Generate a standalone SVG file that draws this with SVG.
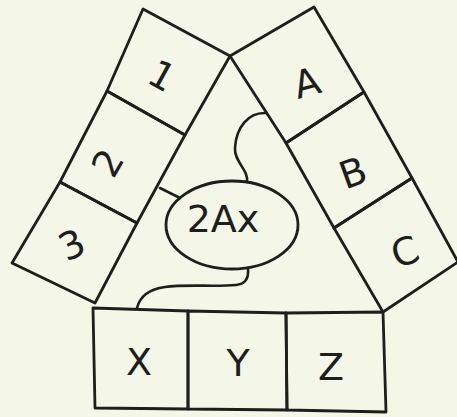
<svg xmlns="http://www.w3.org/2000/svg" width="457" height="417" viewBox="0 0 457 417">
<style>
.cell{fill:none;stroke:#1e1e1e;stroke-width:2.8;stroke-linejoin:round}
.lbl{font-family:"DejaVu Sans","Liberation Sans",sans-serif;font-size:38px;fill:#1e1e1e;text-anchor:middle;dominant-baseline:central}
.con{fill:none;stroke:#1e1e1e;stroke-width:2.6;stroke-linecap:round}
</style>
<rect width="457" height="417" fill="#f4f6e7"/>
<g id="cell-1"><polygon class="cell" points="143,9 230,56 185,135 107,91"/><text class="lbl" transform="translate(162,76) rotate(29)">1</text></g>
<g id="cell-2"><polygon class="cell" points="107,91 185,135 137,223 60,182"/><text class="lbl" transform="translate(108,163) rotate(-60)">2</text></g>
<g id="cell-3"><polygon class="cell" points="60,182 137,223 95,303 12,263"/><text class="lbl" transform="translate(72,245) rotate(-25)">3</text></g>
<g id="cell-A"><polygon class="cell" points="230,56 314,7 364,92 286,143"/><text class="lbl" transform="translate(307,83) rotate(-15)">A</text></g>
<g id="cell-B"><polygon class="cell" points="286,143 364,92 412,178 334,228"/><text class="lbl" transform="translate(353,173) rotate(-20)">B</text></g>
<g id="cell-C"><polygon class="cell" points="334,228 412,178 458,262 383,312"/><text class="lbl" transform="translate(405,252) rotate(-20)">C</text></g>
<g id="cell-X"><polygon class="cell" points="93,308 188,311 188,409 95,408"/><text class="lbl" x="139" y="362">X</text></g>
<g id="cell-Y"><polygon class="cell" points="188,311 286,313 287,410 188,409"/><text class="lbl" x="238" y="363">Y</text></g>
<g id="cell-Z"><polygon class="cell" points="286,313 383,312 386,412 287,410"/><text class="lbl" x="331" y="367">Z</text></g>
<g id="node-2Ax"><ellipse class="cell" cx="232" cy="225" rx="66" ry="44"/><text class="lbl" x="223" y="219" font-size="36">2Ax</text></g>
<g id="connectors">
<path class="con" d="M247,182 C249,170 234,162 235,148 C236,128 248,112 266,113"/>
<path class="con" d="M160,188 L180,198"/>
<path class="con" d="M248,269 C249,279 245,284 236,285 C215,287 185,284 165,287 C150,289 140,296 137,308"/>
</g>
</svg>
